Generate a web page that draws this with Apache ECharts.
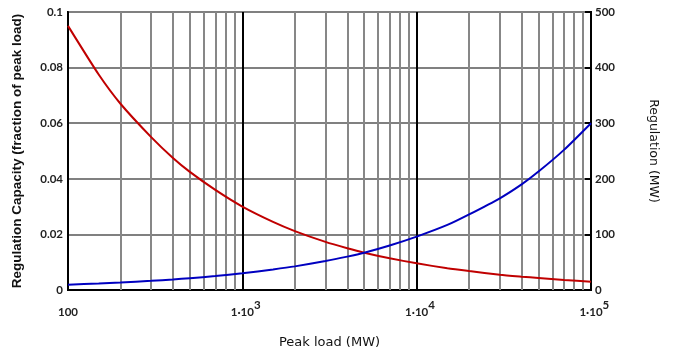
<!DOCTYPE html>
<html>
<head>
<meta charset="utf-8">
<script src="https://cdn.jsdelivr.net/npm/echarts@6/dist/echarts.min.js"></script>
<style>
html,body{margin:0;padding:0;background:#fff;}
#chart{width:673px;height:355px;}
</style>
</head>
<body>
<div id="chart"></div>
<script>
// Peak load (MW), log scale
const peakLoad = [100, 150, 200, 300, 400, 500, 700, 1000, 1500, 2000, 3000, 4000, 5000, 7000, 10000, 15000, 20000, 30000, 40000, 50000, 70000, 100000];
// Regulation capacity, fraction of peak load (left axis)
const capacityFraction = [0.095, 0.0775, 0.067, 0.055, 0.0475, 0.0425, 0.036, 0.030, 0.0245, 0.0212, 0.0173, 0.015, 0.0134, 0.0114, 0.0096, 0.0078, 0.0068, 0.0055, 0.0048, 0.0043, 0.0036, 0.0030];
// Regulation in MW (right axis)
const regulationMW = [9.5, 11.6, 13.4, 16.5, 19, 21.3, 25, 30, 37, 42.5, 52, 60, 67, 80, 96, 117, 136, 165, 190, 213, 252, 300];
// x tick labels
const xTickValues = [100, 1000, 10000, 100000];
const xTickLabels = ['100', '1·10|3', '1·10|4', '1·10|5'];
// minor (2..9 per decade) and major vertical grid values
const minorGrid = [200, 300, 400, 500, 600, 700, 800, 900, 2000, 3000, 4000, 5000, 6000, 7000, 8000, 9000, 20000, 30000, 40000, 50000, 60000, 70000, 80000, 90000];
const majorGrid = [1000, 10000];

const chart = echarts.init(document.getElementById('chart'), null, {renderer: 'canvas'});
const labelFont = 'Lato, "DejaVu Sans", sans-serif';

function xLabel(v) {
  const i = xTickValues.findIndex(t => Math.abs(Math.log10(t) - Math.log10(v)) < 1e-6);
  if (i < 0) return '';
  const s = xTickLabels[i];
  if (s.indexOf('|') < 0) return '{b|' + s + '}{e|0}';
  const p = s.split('|');
  return '{h|' + p[1] + '}{b|' + p[0] + '}{s|' + p[1] + '}';
}

const tickStyle = {fontFamily: labelFont, fontSize: 11.5, fontWeight: 'bold', color: '#222'};
const clear = 'rgba(0,0,0,0)';

chart.setOption({
  animation: false,
  backgroundColor: '#fff',
  grid: {left: 68, right: 82, top: 12, bottom: 65, show: true, borderColor: '#000', borderWidth: 2, backgroundColor: 'transparent'},
  xAxis: {
    type: 'log', min: 100, max: 100000, logBase: 10,
    name: 'Peak load (MW)', nameLocation: 'middle', nameGap: 46,
    nameTextStyle: {fontFamily: '"DejaVu Sans", sans-serif', fontSize: 13, color: '#111'},
    axisLine: {lineStyle: {color: '#000', width: 2}},
    axisTick: {show: false},
    splitLine: {show: false},
    axisLabel: {
      margin: 9,
      formatter: xLabel,
      rich: {
        b: Object.assign({verticalAlign: 'bottom'}, tickStyle),
        s: Object.assign({verticalAlign: 'bottom', padding: [0, 0, 7, 0]}, tickStyle),
        h: Object.assign({}, tickStyle, {color: clear, verticalAlign: 'bottom'}),
        e: Object.assign({}, tickStyle, {color: clear, width: 0, verticalAlign: 'bottom', padding: [0, 0, 7, 0]})
      }
    }
  },
  yAxis: [
    {
      type: 'value', min: 0, max: 0.1, interval: 0.02,
      name: 'Regulation Capacity (fraction of peak load)', nameLocation: 'middle', nameGap: 44,
      nameTextStyle: {fontFamily: '"Liberation Sans", Arial, sans-serif', fontSize: 13.5, fontWeight: 'bold', color: '#111'},
      axisLine: {show: true, lineStyle: {color: '#000', width: 2}},
      axisTick: {show: false},
      splitLine: {show: true, lineStyle: {color: '#808080', width: 2}},
      axisLabel: Object.assign({margin: 5, formatter: v => v === 0 ? '0' : String(+v.toFixed(2))}, tickStyle)
    },
    {
      type: 'value', min: 0, max: 500, interval: 100, position: 'right',
      name: 'Regulation (MW)', nameLocation: 'middle', nameGap: 56, nameRotate: -90,
      nameTextStyle: {fontFamily: '"DejaVu Sans", sans-serif', fontSize: 12.5, color: '#111'},
      axisLine: {show: true, lineStyle: {color: '#000', width: 2}},
      axisTick: {show: true, inside: true, length: 6, lineStyle: {color: '#000', width: 2}},
      splitLine: {show: false},
      axisLabel: Object.assign({margin: 4}, tickStyle)
    }
  ],
  series: [
    {
      type: 'line', yAxisIndex: 0, data: [], silent: true,
      markLine: {
        silent: true, symbol: 'none', label: {show: false}, animation: false,
        data: minorGrid.map(v => ({xAxis: v, lineStyle: {color: '#878787', width: 2, type: 'solid'}}))
          .concat(majorGrid.map(v => ({xAxis: v, lineStyle: {color: '#000', width: 2, type: 'solid'}})))
      }
    },
    {
      name: 'Capacity', type: 'line', yAxisIndex: 0, showSymbol: false, smooth: 0.2,
      data: peakLoad.map((x, i) => [x, capacityFraction[i]]),
      lineStyle: {color: '#c00000', width: 2}, itemStyle: {color: '#c00000'}, z: 5
    },
    {
      name: 'Regulation', type: 'line', yAxisIndex: 1, showSymbol: false, smooth: 0.2,
      data: peakLoad.map((x, i) => [x, regulationMW[i]]),
      lineStyle: {color: '#0000c0', width: 2}, itemStyle: {color: '#0000c0'}, z: 5
    }
  ]
});
</script>
</body>
</html>
